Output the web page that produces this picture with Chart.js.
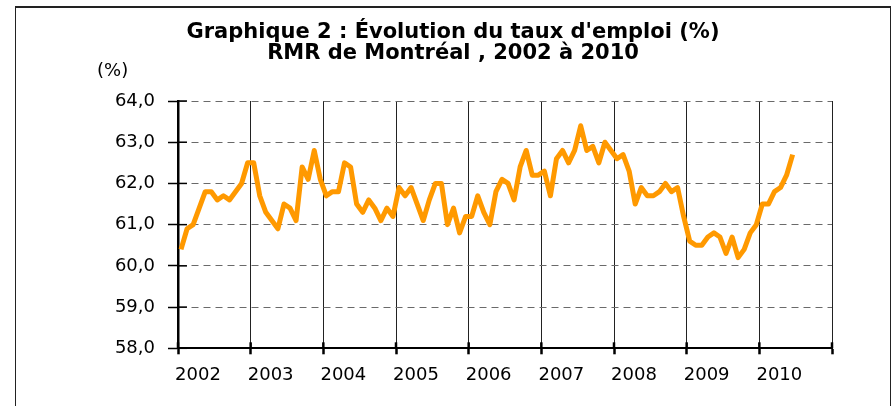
<!DOCTYPE html>
<html>
<head>
<meta charset="utf-8">
<script src="https://cdn.jsdelivr.net/npm/chart.js@4.4.1/dist/chart.umd.min.js"></script>
<style>
  html, body { margin: 0; padding: 0; background: #fff; overflow: hidden; }
  #wrap { position: relative; width: 892px; height: 406px; }
  #frame {
    position: absolute; left: 15px; top: 6px; width: 874px; height: 440px;
    border: 1px solid #222; border-top-width: 2px;
  }
  canvas { position: absolute; left: 0; top: 0; }
</style>
</head>
<body>
<div id="wrap">
  <div id="frame"></div>
  <canvas id="lineChart"></canvas>
</div>
<script>
// Taux d'emploi mensuel, RMR de Montréal (janv. 2002 à juin 2010)
var years = ['2002', '2003', '2004', '2005', '2006', '2007', '2008', '2009', '2010'];
var rate2002 = [60.4, 60.9, 61.0, 61.4, 61.8, 61.8, 61.6, 61.7, 61.6, 61.8, 62.0, 62.5];
var rate2003 = [62.5, 61.7, 61.3, 61.1, 60.9, 61.5, 61.4, 61.1, 62.4, 62.1, 62.8, 62.1];
var rate2004 = [61.7, 61.8, 61.8, 62.5, 62.4, 61.5, 61.3, 61.6, 61.4, 61.1, 61.4, 61.2];
var rate2005 = [61.9, 61.7, 61.9, 61.5, 61.1, 61.6, 62.0, 62.0, 61.0, 61.4, 60.8, 61.2];
var rate2006 = [61.2, 61.7, 61.3, 61.0, 61.8, 62.1, 62.0, 61.6, 62.4, 62.8, 62.2, 62.2];
var rate2007 = [62.3, 61.7, 62.6, 62.8, 62.5, 62.8, 63.4, 62.8, 62.9, 62.5, 63.0, 62.8];
var rate2008 = [62.6, 62.7, 62.3, 61.5, 61.9, 61.7, 61.7, 61.8, 62.0, 61.8, 61.9, 61.2];
var rate2009 = [60.6, 60.5, 60.5, 60.7, 60.8, 60.7, 60.3, 60.7, 60.2, 60.4, 60.8, 61.0];
var rate2010 = [61.5, 61.5, 61.8, 61.9, 62.2, 62.7];

var rate = [].concat(rate2002, rate2003, rate2004, rate2005, rate2006,
                     rate2007, rate2008, rate2009, rate2010);

// one point per month, placed in the middle of its month
var points = rate.map(function (v, i) { return { x: i + 0.5, y: v }; });

// small tick marks crossing into the plot + the "(%)" unit label
var extras = {
    id: 'extras',
    beforeDatasetsDraw: function (chart) {
        var ctx = chart.ctx, area = chart.chartArea;
        var xs = chart.scales.x, ys = chart.scales.y;
        ctx.save();
        ctx.strokeStyle = '#000';
        ctx.lineWidth = 1.5;
        ys.ticks.forEach(function (t) {
            var py = ys.getPixelForValue(t.value);
            ctx.beginPath();
            ctx.moveTo(area.left, py);
            ctx.lineTo(area.left + 9, py);
            ctx.stroke();
        });
        ctx.lineWidth = 2.5;
        xs.ticks.forEach(function (t) {
            var px = xs.getPixelForValue(t.value);
            ctx.beginPath();
            ctx.moveTo(px, area.bottom);
            ctx.lineTo(px, area.bottom - 6);
            ctx.stroke();
        });
        ctx.fillStyle = '#000';
        ctx.font = '18px "DejaVu Sans"';
        ctx.textAlign = 'left';
        ctx.textBaseline = 'middle';
        ctx.fillText('(%)', 97, 71);
        ctx.restore();
    }
};

var ctx1 = document.getElementById('lineChart').getContext('2d');
var lineChart = new Chart(ctx1, {
    type: 'line',
    data: {
        datasets: [{
            label: "Taux d'emploi",
            data: points,
            borderColor: '#FF9900',
            borderWidth: 5,
            borderJoinStyle: 'round',
            pointRadius: 0,
            tension: 0,
            fill: false
        }]
    },
    options: {
        responsive: true,
        maintainAspectRatio: false,
        animation: false,
        layout: {
            padding: { left: 74, right: 60, top: 0, bottom: 0 }
        },
        plugins: {
            legend: { display: false },
            tooltip: { enabled: false },
            title: {
                display: true,
                text: ["Graphique 2 : Évolution du taux d'emploi (%)", 'RMR de Montréal , 2002 à 2010'],
                color: '#000',
                font: { family: '"DejaVu Sans"', size: 21, weight: 'bold', lineHeight: 1 },
                padding: { top: 22, bottom: 37 }
            }
        },
        scales: {
            x: {
                type: 'linear',
                min: 0,
                max: years.length * 12,
                afterFit: function (scale) { scale.height = 57.7; },
                ticks: {
                    stepSize: 12,
                    color: '#000',
                    font: { family: '"DejaVu Sans"', size: 18 },
                    padding: 10,
                    labelOffset: 20,
                    maxRotation: 0,
                    autoSkip: false,
                    callback: function (value) {
                        var k = value / 12;
                        return k < years.length ? years[k] : '';
                    }
                },
                grid: {
                    color: '#222',
                    lineWidth: 1,
                    tickColor: '#000',
                    tickWidth: 2.5,
                    tickLength: 6
                },
                border: { color: '#000', width: 2 }
            },
            y: {
                min: 58,
                max: 64,
                afterFit: function (scale) { scale.width = 104; },
                ticks: {
                    stepSize: 1,
                    color: '#000',
                    font: { family: '"DejaVu Sans"', size: 18 },
                    padding: 13,
                    callback: function (value) { return value.toFixed(1).replace('.', ','); }
                },
                grid: {
                    color: '#6a6a6a',
                    lineWidth: 1,
                    tickColor: '#000',
                    tickWidth: 1.5,
                    tickLength: 10
                },
                border: { color: '#000', width: 2.5, dash: [7, 5] }
            }
        }
    },
    plugins: [extras]
});
</script>
</body>
</html>
